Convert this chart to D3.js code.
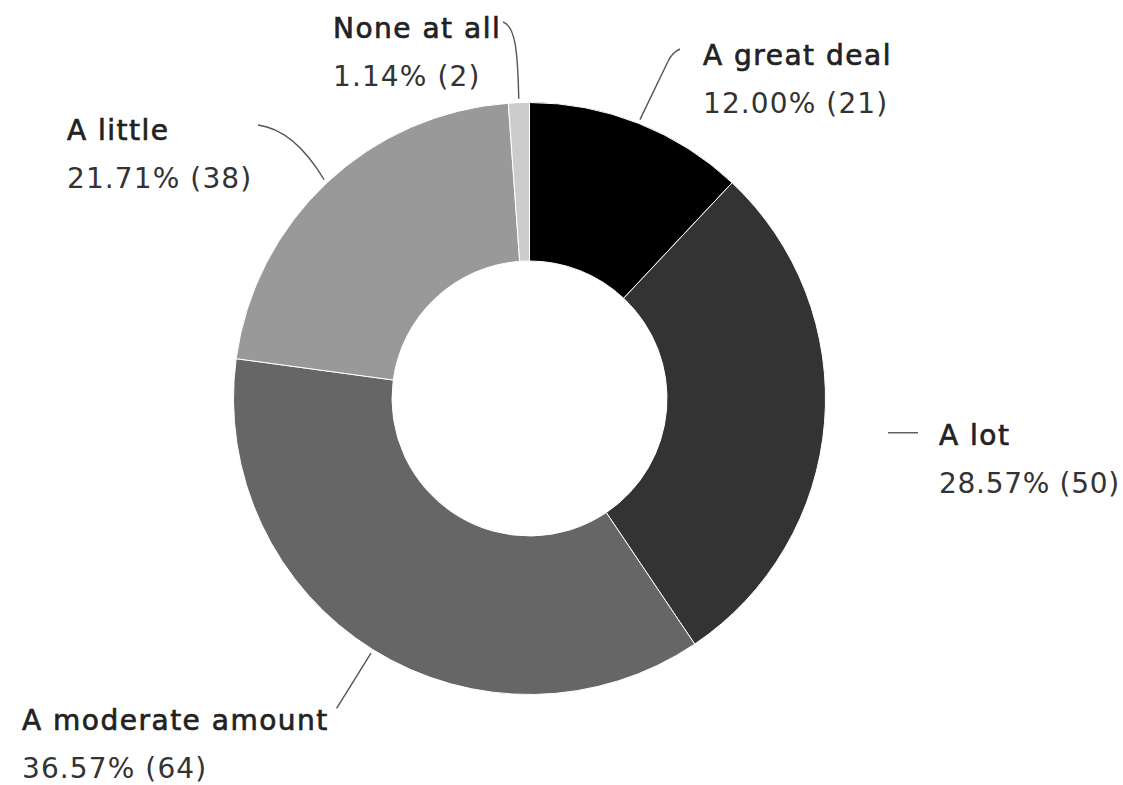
<!DOCTYPE html>
<html>
<head>
<meta charset="utf-8">
<script src="https://cdn.jsdelivr.net/npm/d3@7/dist/d3.min.js"></script>
<style>
  html, body { margin: 0; padding: 0; background: #fff; overflow: hidden; }
  svg { display: block; }
  text { font-family: "DejaVu Sans", sans-serif; }
</style>
</head>
<body>
<svg id="chart" width="1123" height="785"></svg>
<script>
// ---- data ----
const categories = ["A great deal", "A lot", "A moderate amount", "A little", "None at all"];
const percents   = [12.00, 28.57, 36.57, 21.71, 1.14];
const counts     = [21, 50, 64, 38, 2];
const colors     = ["#000000", "#333333", "#666666", "#999999", "#cccccc"];

// ---- layout (positions kept separate from data) ----
const W = 1123, H = 785;
const cx = 529.5, cy = 398.5;
const rOuter = 296, rInner = 137.5, rLeader = 300;
const labelLayout = {
  "A great deal":      { x: 703, y: 65,  leader: "great",    spacing: 1.1 },
  "A lot":             { x: 939, y: 445, leader: "lot",      spacing: 0.7 },
  "A moderate amount": { x: 22,  y: 730, leader: "moderate", spacing: 1.1 },
  "A little":          { x: 67,  y: 140, leader: "little",   spacing: 1.1 },
  "None at all":       { x: 333, y: 38,  leader: "none",     spacing: 1.1 }
};
const lineGap = 48;

const data = categories.map((c, i) => ({ cat: c, pct: percents[i], n: counts[i], color: colors[i] }));

const svg = d3.select("#chart");
const g = svg.append("g").attr("transform", `translate(${cx},${cy})`);

const pie = d3.pie().value(d => d.pct).sort(null).startAngle(0).endAngle(2 * Math.PI);
const arc = d3.arc().innerRadius(rInner).outerRadius(rOuter);
const arcs = pie(data);

g.selectAll("path.slice")
  .data(arcs)
  .enter().append("path")
  .attr("class", "slice")
  .attr("d", arc)
  .attr("fill", d => d.data.color)
  .attr("stroke", "#ffffff")
  .attr("stroke-width", 1);

function polar(angle, r) {
  return [cx + r * Math.sin(angle), cy - r * Math.cos(angle)];
}

// leader lines (start computed from the slice mid-angle)
const leaderG = svg.append("g");
arcs.forEach(a => {
  const mid = (a.startAngle + a.endAngle) / 2;
  const [sx, sy] = polar(mid, rLeader);
  const L = labelLayout[a.data.cat];
  let d;
  switch (L.leader) {
    case "none":
      d = `M${sx},${sy} C${sx - 1},${sy - 45} ${sx - 3},${L.y - 12} ${L.x + 170},${L.y - 16}`;
      break;
    case "great":
      d = `M${sx},${sy} L${sx + 28},${sy - 58} Q${sx + 32},${sy - 67} ${L.x - 23},${L.y - 16}`;
      break;
    case "little":
      d = `M${sx},${sy} Q${sx - 30},${sy - 50} ${L.x + 191},${L.y - 15}`;
      break;
    case "lot": {
      const [ex, ey] = polar(mid, rLeader + 62);
      d = `M${L.x - 51},${ey + 5} L${L.x - 21},${ey + 5}`;
      break;
    }
    case "moderate": {
      const [ex, ey] = polar(mid, rLeader + 65);
      d = `M${sx},${sy} L${ex},${ey}`;
      break;
    }
  }
  leaderG.append("path")
    .attr("d", d)
    .attr("fill", "none")
    .attr("stroke", "#555")
    .attr("stroke-width", 1.4);
});

// labels
const labelG = svg.append("g");
arcs.forEach(a => {
  const L = labelLayout[a.data.cat];
  labelG.append("text")
    .attr("x", L.x).attr("y", L.y)
    .attr("font-size", 28)
    .attr("letter-spacing", 1.5)
    .attr("fill", "#222")
    .attr("stroke", "#222").attr("stroke-width", 0.7)
    .text(a.data.cat);
  labelG.append("text")
    .attr("x", L.x).attr("y", L.y + lineGap)
    .attr("font-size", 28)
    .attr("letter-spacing", L.spacing)
    .attr("fill", "#333")
    .text(`${a.data.pct.toFixed(2)}% (${a.data.n})`);
});
</script>
</body>
</html>
